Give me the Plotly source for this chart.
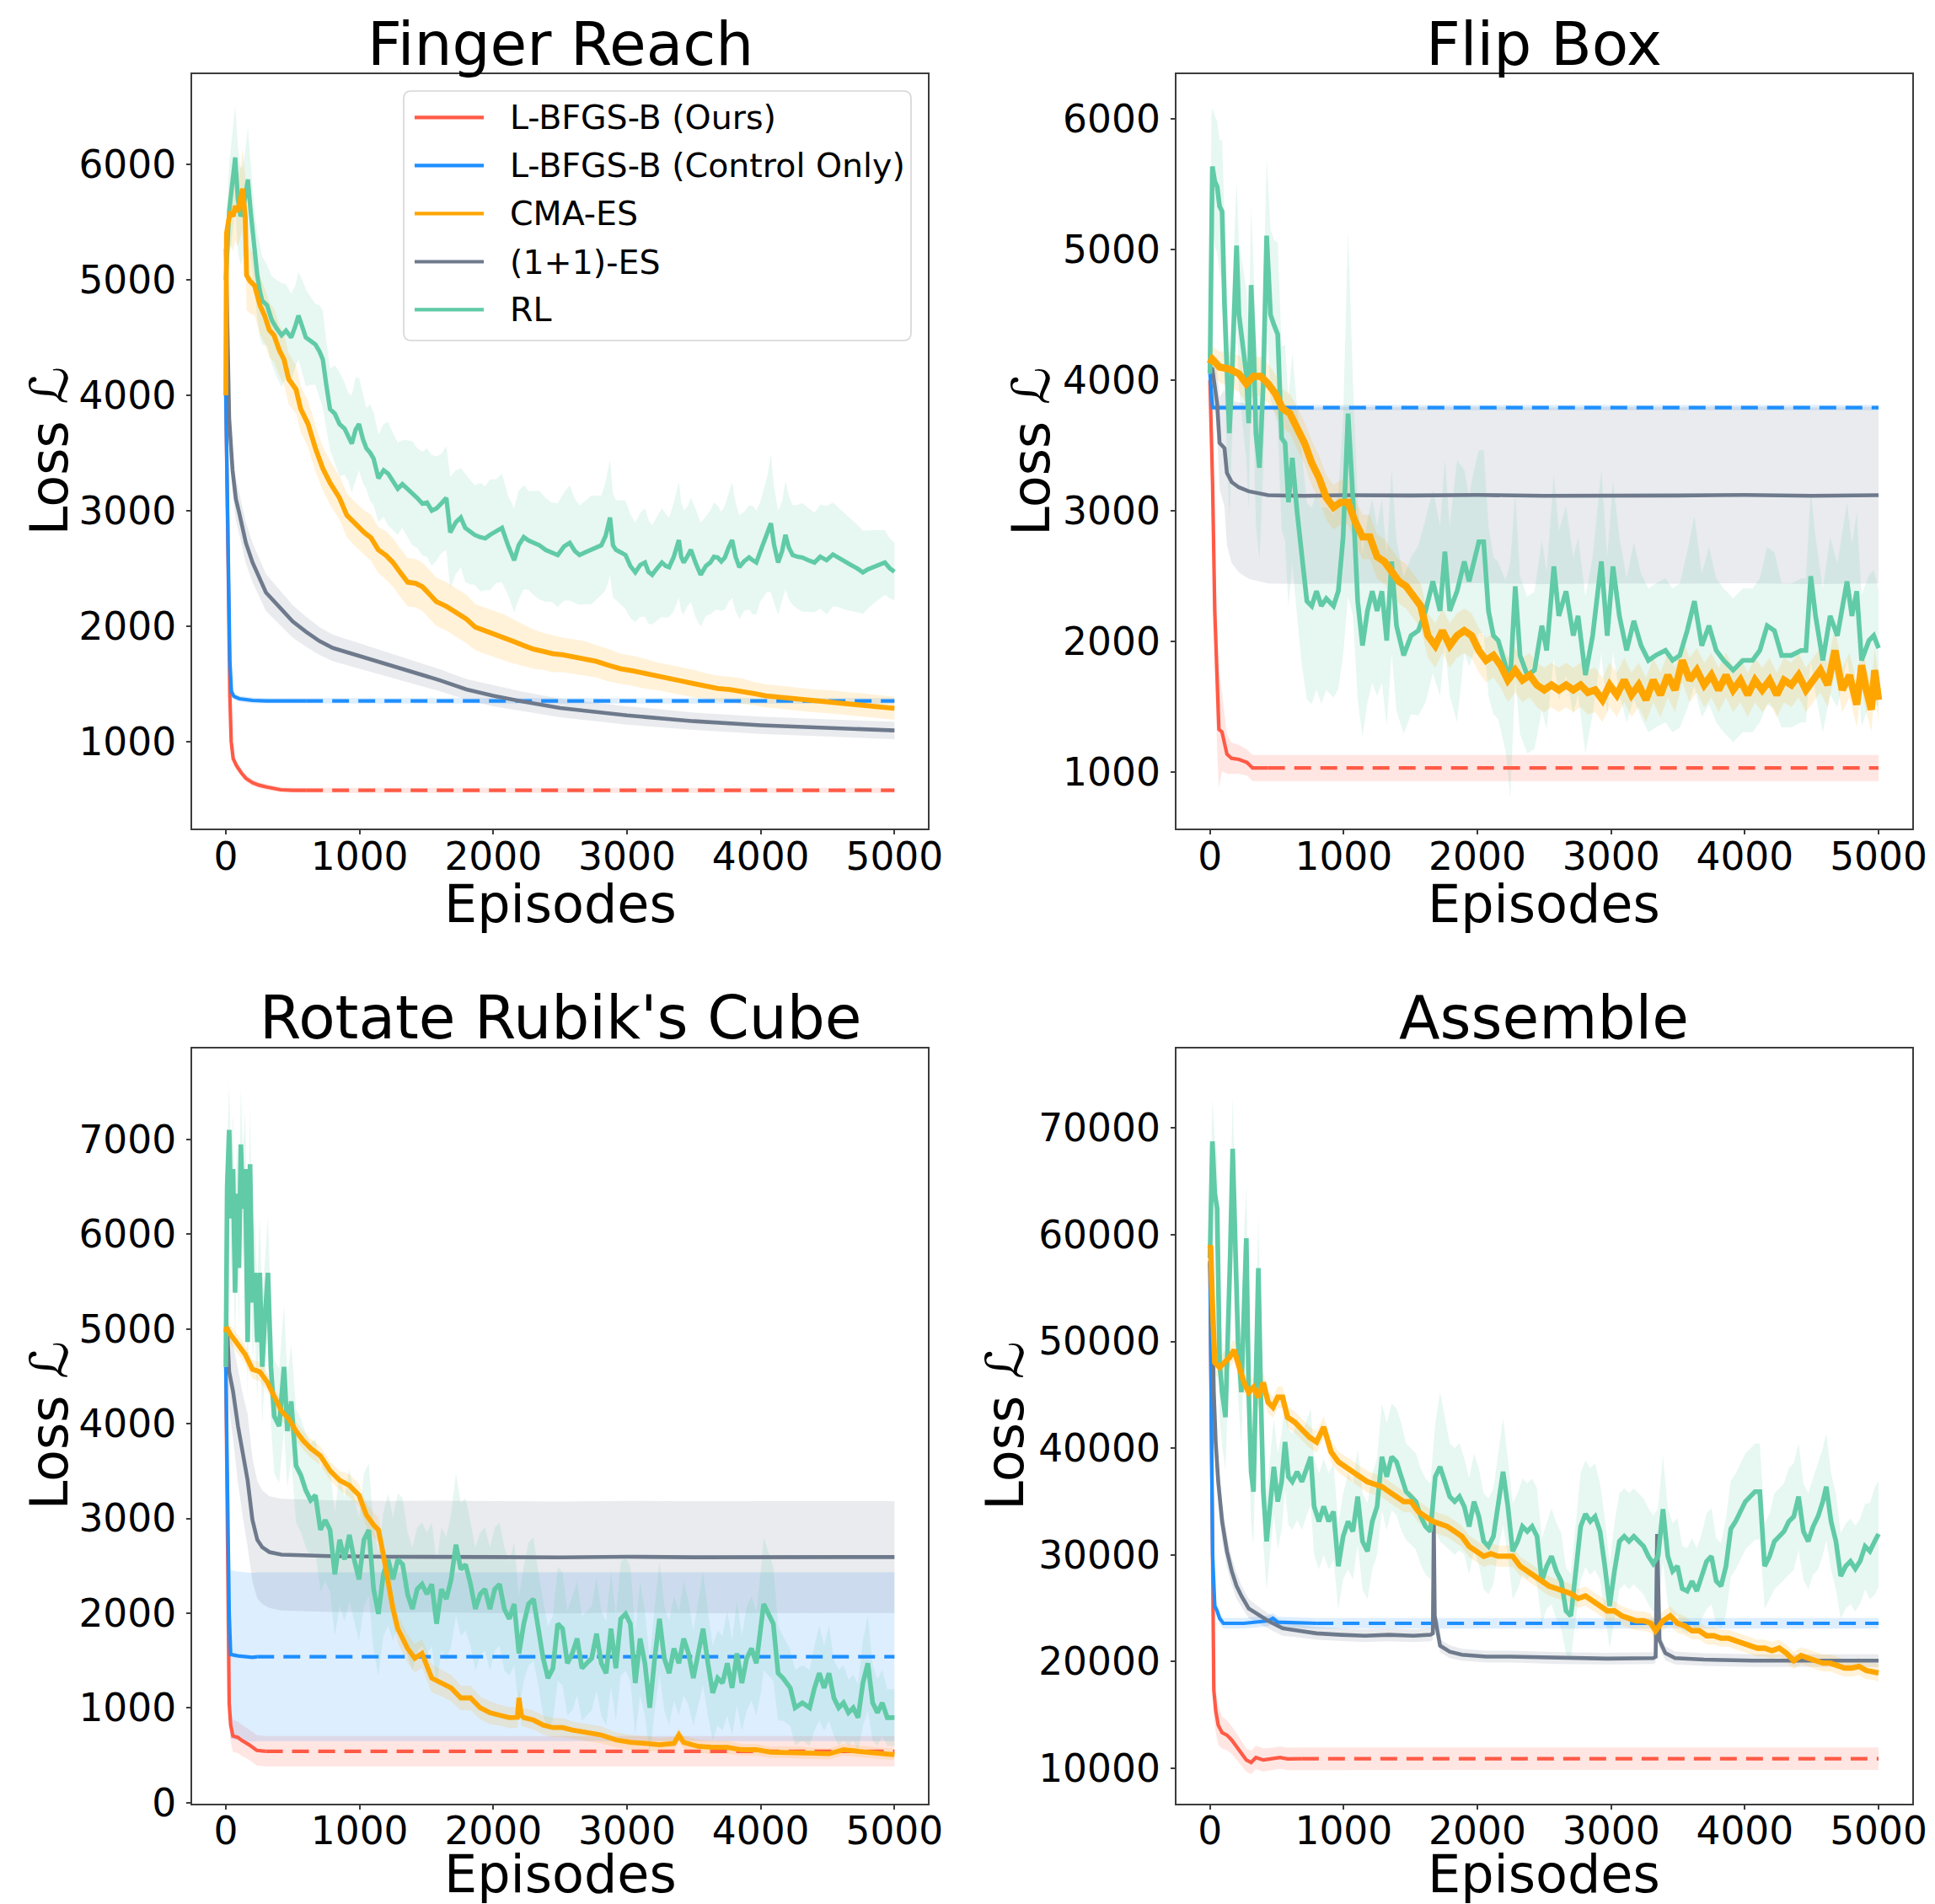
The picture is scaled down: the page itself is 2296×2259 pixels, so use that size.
import plotly.graph_objects as go

# ============================ DATA ============================
# Each noisy series: (episode, mean loss, half-width of shaded band)
EPISODE_TICKS = [0, 1000, 2000, 3000, 4000, 5000]
X_RANGE = [-250, 5250]

METHODS = ["L-BFGS-B (Ours)", "L-BFGS-B (Control Only)", "CMA-ES", "(1+1)-ES", "RL"]
COLORS = {
    "L-BFGS-B (Ours)": "#ff5a46",
    "L-BFGS-B (Control Only)": "#1e8fff",
    "CMA-ES": "#ffa500",
    "(1+1)-ES": "#6e7a8c",
    "RL": "#60cba6",
}

TITLES = ["Finger Reach", "Flip Box", "Rotate Rubik's Cube", "Assemble"]
Y_RANGES = [[245, 6780], [571, 6338], [-7, 7960], [6725, 77443]]
Y_TICKS = [
    [1000, 2000, 3000, 4000, 5000, 6000],
    [1000, 2000, 3000, 4000, 5000, 6000],
    [0, 1000, 2000, 3000, 4000, 5000, 6000, 7000],
    [10000, 20000, 30000, 40000, 50000, 60000, 70000],
]

# ---------------- Finger Reach ----------------
P1_RED = [(0, 4000, 60), (10, 3300, 60), (20, 2300, 60), (30, 1400, 60), (40, 1000, 50), (55, 850, 40),
          (80, 790, 35), (116, 727, 30), (150, 680, 30), (200, 642, 28), (250, 620, 25), (305, 605, 25),
          (410, 581, 22), (500, 577, 22), (600, 576, 22)]
P1_RED_TAIL = [(600, 576, 22), (5000, 576, 22)]
P1_BLUE = [(0, 4000, 40), (10, 3200, 40), (20, 2300, 40), (30, 1700, 30), (42, 1433, 25), (60, 1390, 25),
           (100, 1370, 25), (200, 1355, 25), (300, 1350, 25), (600, 1350, 25)]
P1_BLUE_TAIL = [(600, 1350, 25), (5000, 1350, 25)]
P1_GRAY = [(0, 5270, 50), (10, 4500, 100), (25, 3800, 150), (50, 3350, 180), (75, 3100, 180), (100, 2980, 180),
           (150, 2720, 180), (200, 2550, 170), (300, 2290, 160), (400, 2165, 150), (500, 2040, 140),
           (600, 1950, 130), (700, 1870, 120), (800, 1810, 115), (1000, 1740, 110), (1200, 1670, 105),
           (1400, 1600, 100), (1600, 1530, 95), (1800, 1450, 90), (2000, 1395, 90), (2200, 1350, 85),
           (2500, 1290, 80), (3000, 1225, 80), (3500, 1175, 75), (4000, 1140, 75), (4500, 1115, 75),
           (5000, 1095, 75)]
P1_CMA = [(0, 4000, 50), (5, 5400, 150), (20, 5510, 250), (35, 5590, 300), (55, 5550, 300), (70, 5640, 300),
          (90, 5590, 300), (110, 5680, 300), (125, 5790, 350), (145, 5550, 350), (155, 5040, 300),
          (180, 4990, 280), (215, 4950, 260), (255, 4780, 250), (290, 4690, 240), (325, 4565, 240),
          (360, 4520, 230), (400, 4390, 220), (435, 4310, 220), (470, 4140, 220), (525, 4050, 210),
          (560, 3880, 200), (615, 3750, 200), (670, 3540, 200), (725, 3365, 190), (780, 3240, 190),
          (850, 3110, 190), (905, 2960, 190), (960, 2890, 190), (1000, 2850, 190), (1035, 2810, 190),
          (1085, 2765, 200), (1140, 2660, 200), (1200, 2610, 210), (1250, 2550, 210), (1300, 2470, 210),
          (1360, 2380, 210), (1420, 2370, 210), (1470, 2340, 210), (1520, 2280, 210), (1575, 2210, 210),
          (1650, 2170, 210), (1720, 2120, 210), (1800, 2060, 210), (1865, 1990, 200), (1940, 1960, 200),
          (2010, 1930, 200), (2080, 1900, 200), (2155, 1865, 190), (2230, 1830, 180), (2300, 1800, 170),
          (2375, 1780, 160), (2445, 1760, 160), (2520, 1750, 150), (2590, 1737, 150), (2680, 1720, 150),
          (2770, 1694, 140), (2860, 1660, 140), (2950, 1630, 130), (3050, 1610, 130), (3135, 1587, 130),
          (3220, 1565, 120), (3315, 1544, 120), (3400, 1525, 120), (3500, 1500, 120), (3590, 1480, 110),
          (3680, 1458, 110), (3770, 1450, 110), (3860, 1437, 110), (3950, 1415, 100), (4040, 1394, 100),
          (4130, 1385, 100), (4220, 1373, 100), (4310, 1360, 100), (4400, 1351, 100), (4490, 1345, 100),
          (4580, 1338, 100), (4670, 1325, 100), (4760, 1317, 100), (4880, 1300, 100), (5000, 1287, 100)]
P1_RL = [(0, 5000, 100), (10, 5300, 300), (25, 5600, 400), (45, 5800, 450), (70, 6060, 450), (90, 5700, 450),
         (110, 5550, 420), (127, 5590, 400), (145, 5700, 420), (165, 5870, 450), (185, 5600, 400),
         (200, 5420, 380), (220, 5200, 350), (235, 5040, 380), (255, 4900, 400), (272, 4820, 380),
         (308, 4780, 350), (344, 4650, 380), (380, 4580, 420), (417, 4520, 450), (450, 4560, 400),
         (489, 4500, 380), (520, 4600, 350), (543, 4690, 380), (570, 4600, 400), (598, 4500, 420),
         (635, 4470, 380), (670, 4440, 350), (700, 4380, 400), (725, 4310, 420), (750, 4100, 380),
         (779, 3880, 350), (815, 3840, 420), (850, 3750, 450), (888, 3710, 400), (915, 3640, 380),
         (942, 3580, 420), (970, 3700, 450), (996, 3750, 400), (1025, 3620, 380), (1051, 3540, 350),
         (1080, 3500, 420), (1105, 3450, 400), (1141, 3280, 380), (1180, 3350, 400), (1214, 3320, 450),
         (1250, 3250, 420), (1286, 3190, 400), (1320, 3230, 380), (1359, 3190, 420), (1395, 3150, 450),
         (1431, 3110, 430), (1470, 3060, 450), (1504, 3070, 470), (1540, 3000, 480), (1576, 3020, 450),
         (1610, 3060, 430), (1649, 3110, 450), (1665, 2950, 470), (1678, 2810, 480), (1720, 2900, 450),
         (1757, 2940, 430), (1790, 2850, 470), (1830, 2810, 450), (1860, 2790, 430), (1902, 2770, 470),
         (1940, 2760, 450), (1975, 2790, 480), (2020, 2820, 450), (2065, 2850, 470), (2110, 2700, 430),
         (2156, 2570, 450), (2190, 2700, 470), (2228, 2770, 450), (2265, 2740, 430), (2301, 2720, 450),
         (2345, 2700, 470), (2391, 2660, 450), (2435, 2640, 430), (2482, 2615, 450), (2530, 2690, 470),
         (2572, 2720, 500), (2610, 2650, 450), (2645, 2615, 430), (2690, 2640, 450), (2735, 2660, 470),
         (2770, 2680, 450), (2808, 2700, 430), (2840, 2780, 470), (2873, 2940, 500), (2895, 2700, 450),
         (2917, 2660, 430), (2950, 2640, 450), (2989, 2615, 470), (3025, 2520, 450), (3062, 2465, 430),
         (3100, 2530, 450), (3134, 2550, 470), (3160, 2470, 450), (3188, 2444, 430), (3225, 2500, 450),
         (3261, 2550, 470), (3290, 2520, 450), (3315, 2510, 430), (3350, 2600, 470), (3388, 2745, 500),
         (3405, 2600, 470), (3424, 2550, 450), (3450, 2600, 430), (3478, 2660, 450), (3515, 2540, 470),
         (3551, 2444, 450), (3590, 2520, 430), (3623, 2550, 450), (3650, 2600, 470), (3678, 2594, 450),
         (3705, 2560, 430), (3732, 2594, 450), (3760, 2680, 470), (3786, 2745, 500), (3812, 2600, 470),
         (3840, 2510, 450), (3875, 2560, 430), (3913, 2594, 450), (3940, 2570, 470), (3967, 2550, 450),
         (3995, 2640, 430), (4022, 2720, 470), (4050, 2800, 500), (4076, 2890, 600), (4100, 2700, 500),
         (4130, 2550, 450), (4160, 2650, 430), (4185, 2790, 470), (4210, 2680, 450), (4239, 2615, 430),
         (4275, 2600, 450), (4311, 2594, 470), (4355, 2570, 450), (4402, 2550, 430), (4445, 2600, 450),
         (4493, 2570, 470), (4540, 2620, 450), (4583, 2594, 430), (4630, 2560, 420), (4674, 2530, 400),
         (4720, 2500, 380), (4764, 2465, 360), (4800, 2490, 340), (4837, 2510, 320), (4880, 2530, 300),
         (4928, 2550, 280), (4965, 2500, 260), (5000, 2470, 250)]

# ---------------- Flip Box ----------------
P2_RED = [(0, 4000, 50), (20, 3200, 200), (36, 2235, 400), (54, 1670, 500), (67, 1330, 450), (90, 1310, 300),
          (127, 1140, 150), (162, 1108, 120), (217, 1100, 110), (277, 1076, 100), (319, 1034, 100),
          (435, 1034, 100)]
P2_RED_TAIL = [(435, 1034, 100), (5000, 1034, 100)]
P2_BLUE = [(0, 4050, 30), (10, 3900, 30), (20, 3790, 25), (100, 3790, 20), (650, 3790, 20)]
P2_BLUE_TAIL = [(650, 3790, 20), (5000, 3790, 20)]
P2_GRAY = [(0, 4100, 0), (18, 4085, 100), (54, 3820, 250), (72, 3520, 350), (109, 3480, 450), (127, 3290, 550),
           (163, 3220, 620), (217, 3180, 650), (290, 3150, 670), (435, 3120, 675), (700, 3115, 675),
           (1000, 3120, 675), (1500, 3118, 675), (2000, 3122, 675), (2500, 3115, 675), (3000, 3120, 675),
           (3500, 3118, 675), (4000, 3122, 675), (4500, 3115, 675), (5000, 3120, 675)]
P2_CMA = [(0, 4125, 50), (18, 4160, 100), (72, 4100, 120), (145, 4085, 130), (217, 4048, 140), (272, 3972, 150),
          (326, 4029, 150), (380, 4029, 150), (435, 3972, 150), (489, 3897, 150), (543, 3783, 150),
          (598, 3745, 150), (652, 3632, 160), (707, 3519, 160), (761, 3368, 170), (815, 3255, 170),
          (870, 3103, 170), (924, 3028, 170), (978, 3066, 170), (1033, 3066, 170), (1087, 2915, 170),
          (1141, 2801, 170), (1196, 2801, 170), (1250, 2650, 170), (1304, 2613, 170), (1359, 2537, 170),
          (1413, 2461, 170), (1467, 2424, 170), (1522, 2348, 170), (1576, 2273, 170), (1630, 2046, 170),
          (1685, 1970, 170), (1739, 2084, 170), (1793, 1970, 170), (1848, 2046, 170), (1902, 2084, 170),
          (1957, 2046, 170), (2011, 1933, 170), (2065, 1857, 170), (2120, 1895, 170), (2174, 1819, 170),
          (2228, 1706, 170), (2283, 1782, 170), (2337, 1706, 170), (2391, 1744, 170), (2445, 1669, 170),
          (2500, 1631, 170), (2554, 1669, 170), (2609, 1631, 170), (2663, 1669, 170), (2717, 1631, 170),
          (2772, 1669, 170), (2826, 1612, 170), (2880, 1631, 170), (2935, 1555, 170), (2989, 1669, 170),
          (3043, 1593, 170), (3098, 1706, 170), (3152, 1593, 170), (3206, 1669, 170), (3261, 1555, 170),
          (3315, 1706, 170), (3369, 1593, 170), (3424, 1744, 170), (3478, 1631, 170), (3533, 1857, 170),
          (3587, 1706, 170), (3641, 1782, 170), (3696, 1669, 170), (3750, 1744, 170), (3804, 1631, 170),
          (3859, 1744, 170), (3913, 1631, 170), (3967, 1706, 170), (4022, 1593, 170), (4076, 1706, 170),
          (4130, 1631, 170), (4185, 1706, 170), (4239, 1593, 170), (4293, 1706, 170), (4348, 1669, 170),
          (4402, 1744, 170), (4457, 1631, 170), (4511, 1706, 170), (4565, 1782, 170), (4620, 1669, 170),
          (4674, 1933, 170), (4728, 1631, 170), (4783, 1744, 170), (4837, 1518, 170), (4873, 1819, 170),
          (4909, 1631, 170), (4946, 1480, 170), (4971, 1782, 170), (5000, 1555, 170)]
P2_RL = [(0, 4050, 100), (10, 5600, 400), (18, 5634, 450), (36, 5520, 500), (54, 5480, 500), (72, 5330, 500),
         (91, 5290, 550), (109, 4576, 600), (127, 4048, 600), (145, 3594, 650), (163, 3972, 600),
         (181, 4501, 550), (199, 5029, 500), (217, 4501, 550), (243, 4274, 600), (272, 4048, 650),
         (290, 3670, 650), (308, 4727, 600), (326, 4274, 600), (344, 3594, 700), (370, 3330, 700),
         (399, 3972, 650), (424, 5105, 600), (453, 4501, 650), (478, 4425, 650), (507, 4350, 700),
         (536, 3557, 700), (562, 3519, 750), (587, 3066, 800), (616, 3405, 800), (652, 2990, 800),
         (688, 2613, 800), (725, 2310, 750), (761, 2273, 750), (797, 2386, 750), (833, 2273, 750),
         (870, 2329, 700), (924, 2273, 700), (960, 2386, 750), (996, 2801, 900), (1033, 3745, 1400),
         (1069, 3103, 900), (1105, 2310, 750), (1141, 1970, 700), (1178, 2235, 700), (1214, 2386, 700),
         (1250, 2235, 650), (1286, 2386, 700), (1322, 2008, 650), (1359, 2613, 700), (1395, 2122, 650),
         (1449, 1895, 600), (1504, 2046, 600), (1558, 2084, 650), (1612, 2235, 700), (1667, 2461, 700),
         (1721, 2235, 650), (1757, 2688, 700), (1793, 2235, 650), (1848, 2386, 1000), (1902, 2613, 700),
         (1938, 2461, 650), (1975, 2613, 700), (2011, 2764, 700), (2047, 2764, 700), (2083, 2235, 650),
         (2120, 2046, 600), (2156, 2008, 600), (2210, 1819, 650), (2246, 1706, 900), (2283, 2423, 700),
         (2319, 1895, 600), (2373, 1744, 600), (2427, 1782, 600), (2482, 2122, 650), (2518, 1933, 600),
         (2572, 2575, 700), (2609, 2197, 650), (2663, 2386, 650), (2717, 2046, 600), (2753, 2197, 600),
         (2808, 1744, 600), (2862, 2046, 600), (2927, 2613, 700), (2971, 2046, 600), (3014, 2575, 650),
         (3062, 2197, 600), (3116, 1933, 550), (3170, 2159, 600), (3224, 1970, 550), (3279, 1857, 550),
         (3333, 1895, 550), (3406, 1933, 550), (3460, 1857, 550), (3514, 1895, 550), (3569, 2084, 600),
         (3623, 2310, 650), (3678, 1970, 550), (3732, 2122, 600), (3786, 1933, 550), (3841, 1857, 550),
         (3913, 1782, 550), (3985, 1857, 550), (4058, 1857, 550), (4112, 1933, 550), (4167, 2122, 600),
         (4221, 2084, 600), (4275, 1895, 550), (4348, 1895, 550), (4420, 1933, 550), (4457, 1933, 550),
         (4493, 2501, 650), (4529, 2197, 600), (4583, 1857, 550), (4638, 2197, 600), (4692, 2046, 550),
         (4764, 2461, 600), (4801, 2197, 550), (4837, 2386, 600), (4873, 1857, 500), (4928, 2008, 500),
         (4964, 2046, 500), (5000, 1951, 450)]

# ---------------- Rotate Rubik's Cube ----------------
P3_RED = [(0, 4600, 80), (11, 3300, 200), (18, 1730, 250), (25, 1050, 200), (36, 820, 180), (53, 704, 170),
          (91, 688, 165), (116, 660, 165), (169, 615, 160), (232, 551, 160), (300, 542, 160)]
P3_RED_TAIL = [(300, 542, 160), (5000, 542, 160)]
P3_BLUE = [(0, 4600, 100), (15, 3000, 600), (25, 2000, 800), (36, 1564, 890), (91, 1549, 890),
           (199, 1533, 890), (235, 1540, 890)]
P3_BLUE_TAIL = [(235, 1540, 890), (5000, 1540, 890)]
P3_GRAY = [(0, 5044, 50), (10, 5000, 200), (25, 4548, 400), (54, 4340, 500), (91, 3974, 600), (127, 3661, 650),
           (163, 3401, 700), (199, 2983, 650), (235, 2775, 620), (272, 2696, 600), (326, 2644, 590),
           (417, 2618, 590), (779, 2602, 590), (1200, 2595, 590), (1600, 2598, 590), (2000, 2592, 590),
           (2500, 2588, 590), (3000, 2595, 590), (3500, 2590, 590), (4000, 2592, 590), (4500, 2590, 590),
           (5000, 2592, 590)]
P3_CMA = [(0, 4966, 50), (5, 5018, 80), (36, 4940, 100), (91, 4835, 100), (145, 4731, 100), (199, 4574, 100),
          (254, 4548, 100), (308, 4444, 100), (362, 4287, 100), (417, 4131, 100), (471, 4053, 100),
          (525, 3922, 100), (580, 3818, 100), (634, 3740, 100), (707, 3661, 100), (779, 3505, 100),
          (851, 3401, 100), (924, 3348, 120), (996, 3244, 120), (1051, 3036, 120), (1105, 2931, 130),
          (1141, 2879, 130), (1178, 2618, 150), (1214, 2305, 150), (1250, 2044, 150), (1286, 1836, 150),
          (1322, 1732, 150), (1359, 1627, 150), (1413, 1523, 150), (1467, 1575, 150), (1540, 1314, 150),
          (1612, 1262, 140), (1685, 1210, 140), (1757, 1105, 130), (1830, 1105, 130), (1902, 1001, 120),
          (1975, 949, 120), (2047, 923, 110), (2120, 897, 110), (2180, 900, 110), (2192, 1105, 110),
          (2210, 920, 110), (2228, 897, 100), (2301, 871, 100), (2373, 819, 100), (2446, 792, 100),
          (2518, 792, 100), (2591, 766, 90), (2699, 740, 90), (2808, 714, 90), (2917, 662, 80),
          (3025, 636, 80), (3134, 625, 80), (3243, 610, 70), (3351, 625, 70), (3388, 714, 70),
          (3424, 636, 70), (3532, 594, 70), (3641, 584, 70), (3750, 584, 70), (3859, 558, 60),
          (3967, 558, 60), (4076, 532, 60), (4185, 532, 60), (4293, 532, 60), (4402, 521, 60),
          (4511, 516, 60), (4619, 558, 60), (4728, 542, 60), (4837, 532, 60), (5000, 506, 60)]
P3_RL = [(0, 4600, 100), (10, 6500, 400), (25, 7100, 500), (40, 6165, 600), (54, 6687, 600), (69, 5383, 600),
         (83, 6426, 600), (98, 5644, 600), (112, 6948, 600), (127, 6270, 600), (145, 6687, 600),
         (163, 4861, 600), (181, 6739, 600), (199, 5279, 600), (217, 5592, 600), (235, 4861, 600),
         (254, 5592, 600), (272, 4600, 600), (290, 5070, 600), (315, 5592, 600), (337, 4600, 600),
         (362, 4079, 600), (399, 3974, 600), (435, 4600, 650), (460, 3922, 600), (489, 4235, 600),
         (525, 3557, 600), (562, 3453, 600), (598, 3296, 600), (634, 3192, 600), (670, 3244, 600),
         (707, 2879, 650), (743, 2983, 650), (779, 2879, 650), (815, 2410, 650), (851, 2775, 700),
         (888, 2566, 650), (924, 2827, 700), (960, 2566, 650), (996, 2357, 650), (1033, 2775, 700),
         (1069, 2879, 700), (1105, 2253, 650), (1141, 1992, 650), (1178, 2410, 650), (1214, 2566, 700),
         (1250, 2357, 650), (1286, 2566, 700), (1322, 2514, 700), (1359, 2201, 650), (1395, 2044, 650),
         (1431, 2253, 650), (1467, 2305, 650), (1504, 2201, 650), (1540, 2305, 650), (1576, 1888, 650),
         (1612, 2253, 650), (1649, 2149, 650), (1685, 2357, 700), (1721, 2722, 750), (1757, 2462, 700),
         (1793, 2514, 700), (1830, 2305, 650), (1866, 2044, 650), (1902, 2201, 650), (1938, 2253, 650),
         (1975, 2044, 650), (2011, 2253, 650), (2047, 2305, 650), (2083, 2044, 650), (2120, 1940, 600),
         (2156, 2097, 650), (2192, 1575, 600), (2228, 1888, 600), (2264, 2097, 650), (2301, 2149, 650),
         (2337, 1836, 600), (2373, 1523, 600), (2409, 1314, 550), (2446, 1418, 550), (2482, 1888, 600),
         (2518, 1836, 600), (2554, 1471, 550), (2591, 1575, 600), (2627, 1732, 600), (2663, 1418, 550),
         (2699, 1471, 550), (2736, 1523, 550), (2772, 1784, 600), (2808, 1471, 550), (2844, 1366, 550),
         (2880, 1836, 600), (2917, 1418, 550), (2953, 1940, 600), (2989, 1992, 600), (3025, 1888, 600),
         (3062, 1262, 550), (3098, 1732, 600), (3134, 1471, 550), (3170, 1001, 500), (3207, 1523, 550),
         (3243, 1940, 600), (3279, 1523, 550), (3315, 1366, 550), (3351, 1627, 550), (3388, 1471, 550),
         (3424, 1732, 600), (3460, 1575, 550), (3496, 1314, 500), (3532, 1575, 550), (3569, 1836, 600),
         (3605, 1471, 550), (3641, 1158, 500), (3678, 1314, 500), (3714, 1262, 500), (3750, 1471, 550),
         (3786, 1210, 500), (3822, 1575, 550), (3859, 1262, 500), (3895, 1523, 550), (3931, 1627, 550),
         (3967, 1471, 550), (4004, 1836, 650), (4022, 2097, 700), (4058, 1992, 650), (4094, 1888, 600),
         (4130, 1366, 500), (4167, 1314, 450), (4221, 1210, 400), (4257, 1001, 400), (4311, 1053, 400),
         (4366, 1001, 400), (4402, 1210, 450), (4438, 1366, 500), (4474, 1210, 450), (4511, 1366, 500),
         (4547, 1105, 400), (4583, 1001, 400), (4619, 1053, 400), (4656, 949, 350), (4692, 1001, 350),
         (4728, 897, 350), (4764, 1262, 450), (4801, 1471, 500), (4837, 1053, 400), (4873, 949, 350),
         (4909, 1053, 350), (4946, 897, 300), (5000, 897, 300)]

# ---------------- Assemble ----------------
P4_RED = [(0, 57570, 300), (7, 45230, 2000), (18, 26610, 3000), (29, 17300, 2500), (43, 15440, 2000),
          (62, 14040, 1800), (91, 13340, 1500), (127, 13110, 1400), (163, 12650, 1300), (217, 11710, 1200),
          (272, 10780, 1100), (308, 10550, 1100), (344, 11015, 1100), (399, 10780, 1100), (471, 10880, 1050),
          (525, 11015, 1050), (580, 10880, 1050), (688, 10900, 1050)]
P4_RED_TAIL = [(688, 10900, 1050), (5000, 10900, 1050)]
P4_BLUE = [(0, 57570, 200), (10, 45000, 1000), (20, 30000, 1000), (36, 25214, 800), (54, 24749, 600),
           (72, 24051, 500), (101, 23585, 500), (254, 23585, 500), (435, 23818, 500), (471, 24051, 500),
           (507, 23700, 500), (797, 23585, 500)]
P4_BLUE_TAIL = [(797, 23585, 500), (5000, 23585, 500)]
P4_GRAY = [(0, 57340, 500), (18, 51750, 1500), (29, 45230, 2000), (43, 40580, 2000), (62, 36850, 2000),
           (91, 33130, 1800), (127, 30340, 1500), (163, 28470, 1300), (199, 27080, 1200), (235, 26150, 1000),
           (290, 24980, 900), (344, 24520, 800), (435, 23820, 700), (543, 23120, 700), (652, 22890, 600),
           (797, 22650, 600), (978, 22510, 600), (1159, 22420, 600), (1340, 22510, 600), (1522, 22420, 600),
           (1649, 22510, 600), (1667, 22650, 600), (1674, 33130, 800), (1681, 24280, 700), (1721, 21490, 600),
           (1793, 20930, 600), (1884, 20650, 550), (2065, 20470, 550), (2246, 20470, 550), (2609, 20330, 550),
           (2971, 20280, 550), (3315, 20330, 550), (3333, 20450, 550), (3344, 31960, 800), (3362, 21960, 700),
           (3406, 20790, 650), (3478, 20330, 600), (3696, 20190, 600), (4058, 20090, 600), (4420, 20090, 600),
           (5000, 20090, 600)]
P4_CMA = [(0, 58730, 500), (5, 59000, 800), (18, 53610, 1500), (36, 48030, 1200), (72, 47560, 1000),
          (109, 48030, 1000), (145, 48490, 1000), (181, 49190, 1000), (217, 47560, 1000), (254, 46160, 1000),
          (290, 45230, 1000), (326, 45700, 1000), (362, 44770, 1000), (399, 46160, 1000), (435, 44300, 1000),
          (471, 43840, 1000), (507, 44770, 1000), (543, 44770, 1000), (580, 42900, 1000), (634, 42440, 1000),
          (688, 41740, 1000), (743, 41040, 1000), (797, 40580, 1000), (851, 41970, 1000), (906, 39650, 1000),
          (960, 38720, 1000), (1014, 38250, 1000), (1069, 37780, 1000), (1123, 37320, 1000), (1178, 36850, 1000),
          (1232, 36620, 1000), (1286, 36390, 1000), (1340, 35920, 1000), (1395, 35460, 1000), (1449, 34990, 1000),
          (1504, 34990, 1000), (1558, 34060, 1000), (1612, 33590, 1000), (1667, 33130, 1000), (1721, 32900, 1000),
          (1775, 32660, 1000), (1830, 32200, 1000), (1884, 31730, 1000), (1938, 30800, 1000), (1993, 30340, 1000),
          (2047, 29870, 1000), (2101, 30100, 1000), (2156, 29870, 1000), (2210, 29870, 1000), (2264, 29870, 1000),
          (2319, 28940, 900), (2373, 28470, 900), (2427, 28010, 900), (2482, 27540, 900), (2536, 27080, 900),
          (2591, 26840, 900), (2645, 26610, 900), (2699, 26380, 900), (2753, 25910, 900), (2808, 26150, 900),
          (2862, 25680, 900), (2917, 25210, 900), (2971, 24750, 900), (3025, 24750, 900), (3080, 24280, 900),
          (3134, 24050, 900), (3188, 23820, 900), (3243, 23820, 900), (3297, 23590, 900), (3333, 22890, 900),
          (3388, 23820, 900), (3442, 24280, 900), (3496, 23590, 900), (3551, 23350, 900), (3605, 22890, 800),
          (3659, 22890, 800), (3714, 22420, 800), (3768, 22420, 800), (3822, 22190, 800), (3877, 22190, 800),
          (3931, 21960, 800), (3985, 21720, 800), (4040, 21490, 800), (4094, 21260, 800), (4148, 21260, 800),
          (4203, 21020, 800), (4257, 21260, 800), (4311, 20790, 800), (4366, 20090, 800), (4420, 20560, 800),
          (4474, 20330, 800), (4529, 20090, 800), (4583, 19860, 800), (4638, 19860, 800), (4692, 19630, 800),
          (4746, 19400, 800), (4801, 19400, 800), (4855, 19540, 800), (4909, 19160, 800), (4964, 19070, 800),
          (5000, 18930, 800)]
P4_RL = [(0, 57800, 1000), (10, 65000, 3000), (18, 68740, 4000), (36, 63860, 5000), (54, 62460, 5000),
         (72, 48030, 5000), (91, 45230, 5000), (116, 42900, 5000), (138, 50820, 5000), (152, 58270, 5000),
         (170, 68050, 5000), (188, 59200, 5000), (210, 49890, 5000), (235, 45230, 5000), (254, 54540, 5000),
         (272, 59670, 5000), (290, 45230, 5000), (308, 37780, 5000), (326, 35920, 5000), (344, 45230, 5000),
         (362, 56870, 5000), (380, 45230, 5000), (399, 35920, 5000), (424, 31270, 4500), (453, 34990, 4500),
         (478, 38250, 4500), (507, 34990, 4500), (536, 36850, 4500), (562, 40580, 4500), (587, 37320, 4500),
         (616, 36850, 4500), (652, 37780, 4500), (688, 36850, 4500), (725, 38250, 4500), (754, 39180, 4500),
         (779, 34530, 4500), (815, 33130, 4500), (851, 34530, 4500), (888, 33130, 4500), (924, 34060, 4500),
         (960, 28940, 4000), (996, 31730, 4000), (1033, 33130, 4500), (1069, 32200, 4500), (1105, 35460, 4500),
         (1141, 31270, 4500), (1178, 30340, 4500), (1214, 33130, 4500), (1250, 34530, 4500), (1286, 39180, 5000),
         (1322, 37320, 5000), (1359, 39180, 5000), (1395, 38720, 5000), (1431, 37320, 5000), (1467, 35920, 4500),
         (1504, 35460, 4500), (1540, 34990, 4500), (1576, 33590, 4500), (1612, 32660, 4500), (1649, 32200, 4500),
         (1685, 37320, 5000), (1721, 38250, 7000), (1757, 36850, 6000), (1793, 35460, 5000), (1830, 34990, 5000),
         (1866, 35460, 5000), (1902, 34530, 4500), (1938, 32660, 4500), (1975, 34990, 4500), (2011, 33590, 4500),
         (2047, 31270, 4500), (2083, 30800, 4500), (2120, 31730, 4500), (2156, 34990, 4500), (2192, 37780, 5000),
         (2228, 34530, 4500), (2264, 30340, 4500), (2301, 31270, 4500), (2337, 32660, 4500), (2373, 32200, 4500),
         (2409, 32660, 4500), (2446, 31730, 4500), (2482, 27540, 4000), (2518, 28940, 4000), (2554, 29870, 4500),
         (2591, 28470, 4500), (2627, 27540, 4500), (2663, 24750, 4000), (2699, 24280, 4000), (2736, 28470, 4500),
         (2772, 32660, 5000), (2808, 33830, 5000), (2844, 33130, 5000), (2880, 33590, 5000), (2917, 32200, 4500),
         (2953, 28940, 4500), (2989, 25210, 4000), (3025, 28470, 4500), (3062, 31270, 4500), (3098, 31730, 4500),
         (3134, 31270, 4500), (3170, 31730, 4500), (3207, 31270, 4500), (3243, 30800, 4500), (3279, 29870, 4500),
         (3315, 29170, 4500), (3351, 29870, 4500), (3388, 34290, 5000), (3424, 29870, 4500), (3460, 28470, 4500),
         (3496, 28940, 4500), (3532, 26840, 4000), (3569, 26610, 4000), (3605, 27540, 4000), (3641, 26610, 4000),
         (3678, 28010, 4000), (3714, 29400, 4500), (3750, 29870, 4500), (3786, 27540, 4000), (3822, 27080, 4000),
         (3859, 28940, 4500), (3895, 32430, 4500), (3931, 33130, 4500), (3967, 34060, 4500), (4004, 34990, 4500),
         (4040, 35460, 4500), (4076, 35920, 4500), (4112, 35920, 4500), (4148, 28940, 4000), (4185, 29870, 4000),
         (4221, 31270, 4500), (4257, 31730, 4500), (4293, 32200, 4500), (4329, 33130, 5000), (4366, 33590, 5000),
         (4402, 35460, 5000), (4438, 32200, 4500), (4474, 31270, 4500), (4511, 32660, 4500), (4547, 33590, 5000),
         (4583, 34990, 5000), (4609, 36390, 5000), (4645, 33130, 4500), (4681, 31270, 4500), (4717, 28010, 4000),
         (4754, 28940, 4000), (4790, 29400, 4000), (4826, 28700, 4000), (4862, 29400, 4000), (4899, 30800, 4000),
         (4935, 30340, 4500), (4971, 31270, 5000), (5000, 31960, 5000)]

PANEL_SERIES = [
    {"red": (P1_RED, P1_RED_TAIL), "blue": (P1_BLUE, P1_BLUE_TAIL), "gray": P1_GRAY, "rl": P1_RL, "cma": P1_CMA},
    {"red": (P2_RED, P2_RED_TAIL), "blue": (P2_BLUE, P2_BLUE_TAIL), "gray": P2_GRAY, "rl": P2_RL, "cma": P2_CMA},
    {"red": (P3_RED, P3_RED_TAIL), "blue": (P3_BLUE, P3_BLUE_TAIL), "gray": P3_GRAY, "rl": P3_RL, "cma": P3_CMA},
    {"red": (P4_RED, P4_RED_TAIL), "blue": (P4_BLUE, P4_BLUE_TAIL), "gray": P4_GRAY, "rl": P4_RL, "cma": P4_CMA},
]

# ============================ STYLE / LAYOUT ============================
W, H = 2296, 2259
FONT = "DejaVu Sans"
AXIS_COLOR = "#3c3c3c"
W_THIN = 4.2           # red / blue
W_GRAY = 4.6
W_RL = [5.2, 5.6, 5.6, 5.6]
W_CMA = [5.8, 8.5, 5.8, 6.4]
DASH = "20px,11px"
TITLE_SIZE, LABEL_SIZE, TICK_SIZE, LEGEND_SIZE = 71, 62, 45.5, 39.5

# panel boxes in pixels (left, right, top, bottom)
BOXES = [(228.3, 1101.0, 88.3, 983.0), (1396.0, 2268.7, 88.3, 983.0),
         (228.3, 1101.0, 1244.0, 2139.5), (1396.0, 2268.7, 1244.0, 2139.5)]
YLABEL_X = [58.6, 1224.0, 58.6, 1193.0]
XLABEL_GAP = [90, 90, 84, 84]   # px from axis bottom to the "Episodes" centre


def px(xp):
    return xp / W


def py(yp):
    return 1 - yp / H


def rgba(hex_color, a):
    h = hex_color.lstrip("#")
    r, g, b = int(h[0:2], 16), int(h[2:4], 16), int(h[4:6], 16)
    return f"rgba({r},{g},{b},{a})"


def band(pts, color, xa, ya):
    xs = [p[0] for p in pts]
    up = [p[1] + p[2] for p in pts]
    lo = [p[1] - p[2] for p in pts]
    return go.Scatter(x=xs + xs[::-1], y=up + lo[::-1], fill="toself", fillcolor=rgba(color, 0.15),
                      line=dict(width=0), mode="lines", hoverinfo="skip", showlegend=False,
                      xaxis=xa, yaxis=ya)


def line(pts, color, xa, ya, name, width, dash=None):
    return go.Scatter(x=[p[0] for p in pts], y=[p[1] for p in pts], mode="lines", name=name,
                      line=dict(color=color, width=width, dash=dash), showlegend=False,
                      xaxis=xa, yaxis=ya)


fig = go.Figure()
annotations = []
shapes = []

for i, series in enumerate(PANEL_SERIES):
    xa = "x" if i == 0 else f"x{i + 1}"
    ya = "y" if i == 0 else f"y{i + 1}"
    c_red, c_blue = COLORS[METHODS[0]], COLORS[METHODS[1]]
    c_cma, c_gray, c_rl = COLORS[METHODS[2]], COLORS[METHODS[3]], COLORS[METHODS[4]]
    red, red_tail = series["red"]
    blue, blue_tail = series["blue"]

    # shaded bands first
    fig.add_trace(band(red + red_tail[1:], c_red, xa, ya))
    fig.add_trace(band(blue + blue_tail[1:], c_blue, xa, ya))
    fig.add_trace(band(series["gray"], c_gray, xa, ya))
    fig.add_trace(band(series["rl"], c_rl, xa, ya))
    fig.add_trace(band(series["cma"], c_cma, xa, ya))

    # mean lines
    fig.add_trace(line(red, c_red, xa, ya, METHODS[0], W_THIN))
    fig.add_trace(line(red_tail, c_red, xa, ya, METHODS[0], W_THIN, dash=DASH))
    fig.add_trace(line(blue, c_blue, xa, ya, METHODS[1], W_THIN))
    fig.add_trace(line(blue_tail, c_blue, xa, ya, METHODS[1], W_THIN, dash=DASH))
    fig.add_trace(line(series["gray"], c_gray, xa, ya, METHODS[3], W_GRAY))
    fig.add_trace(line(series["rl"], c_rl, xa, ya, METHODS[4], W_RL[i]))
    fig.add_trace(line(series["cma"], c_cma, xa, ya, METHODS[2], W_CMA[i]))

    left, right, top, bottom = BOXES[i]
    ax_common = dict(showline=True, mirror=True, linecolor=AXIS_COLOR, linewidth=2,
                     ticks="outside", ticklen=5, tickwidth=1.6, tickcolor=AXIS_COLOR,
                     showgrid=False, zeroline=False, automargin=False,
                     tickfont=dict(family=FONT, size=TICK_SIZE, color="black"))
    fig.update_layout({
        ("xaxis" if i == 0 else f"xaxis{i + 1}"): dict(
            domain=[px(left), px(right)], anchor=ya, range=X_RANGE, ticklabelstandoff=-13,
            tickvals=EPISODE_TICKS, ticktext=[str(v) for v in EPISODE_TICKS], **ax_common),
        ("yaxis" if i == 0 else f"yaxis{i + 1}"): dict(
            domain=[py(bottom), py(top)], anchor=xa, range=Y_RANGES[i], ticklabelstandoff=3,
            tickvals=Y_TICKS[i], ticktext=[str(v) for v in Y_TICKS[i]], **ax_common),
    })

    cx = (left + right) / 2
    annotations.append(dict(text=TITLES[i], x=px(cx), y=py(top - 36.3), xref="paper", yref="paper",
                            xanchor="center", yanchor="middle", showarrow=False,
                            font=dict(family=FONT, size=TITLE_SIZE, color="black")))
    annotations.append(dict(text="Episodes", x=px(cx), y=py(bottom + XLABEL_GAP[i]), xref="paper",
                            yref="paper", xanchor="center", yanchor="middle", showarrow=False,
                            font=dict(family=FONT, size=LABEL_SIZE, color="black")))
    annotations.append(dict(text="Loss ℒ", x=px(YLABEL_X[i]), y=py((top + bottom) / 2), xref="paper",
                            yref="paper", xanchor="center", yanchor="middle", textangle=-90,
                            showarrow=False, font=dict(family=FONT, size=LABEL_SIZE, color="black")))

# ---------------- legend (drawn in the first panel) ----------------
LEG_L, LEG_R, LEG_T, LEG_B, R = 479, 1081, 108, 404, 9
x0, x1, y0, y1 = px(LEG_L), px(LEG_R), py(LEG_T), py(LEG_B)
rx, ry = R / W, R / H
path = (f"M{x0 + rx},{y0} L{x1 - rx},{y0} Q{x1},{y0} {x1},{y0 - ry} L{x1},{y1 + ry} "
        f"Q{x1},{y1} {x1 - rx},{y1} L{x0 + rx},{y1} Q{x0},{y1} {x0},{y1 + ry} "
        f"L{x0},{y0 - ry} Q{x0},{y0} {x0 + rx},{y0} Z")
shapes.append(dict(type="path", path=path, xref="paper", yref="paper", layer="above",
                   fillcolor="rgba(255,255,255,0.85)", line=dict(color="#d5d5d5", width=1.6)))
LEG_ROWS = [139.3, 196.3, 253.3, 310.5, 367.4]
for name, yrow in zip(METHODS, LEG_ROWS):
    shapes.append(dict(type="line", xref="paper", yref="paper", layer="above",
                       x0=px(492), x1=px(574), y0=py(yrow), y1=py(yrow),
                       line=dict(color=COLORS[name], width=W_THIN)))
    annotations.append(dict(text=name, x=px(603), y=py(yrow), xref="paper", yref="paper",
                            xanchor="left", yanchor="middle", showarrow=False,
                            font=dict(family=FONT, size=LEGEND_SIZE, color="black")))

fig.update_layout(width=W, height=H, autosize=False,
                  margin=dict(l=0, r=0, t=0, b=0, pad=0, autoexpand=False),
                  paper_bgcolor="white", plot_bgcolor="white", showlegend=False,
                  annotations=annotations, shapes=shapes, font=dict(family=FONT, color="black"))

fig.write_html("out.html", config={"displayModeBar": False},
               post_script="document.body.style.margin='0';")
